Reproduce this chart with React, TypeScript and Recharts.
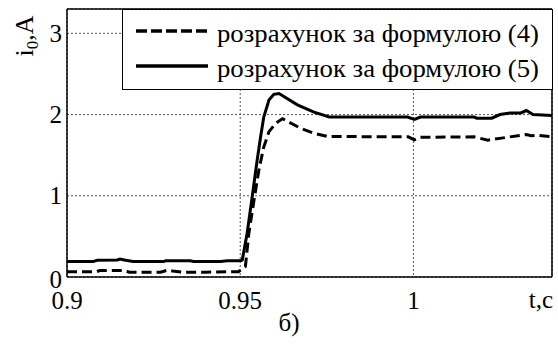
import React from "react";
import { LineChart, Line, XAxis, YAxis, CartesianGrid, Legend, ReferenceLine } from "recharts";

// formula (4) - dashed
const t4 = [0.9, 0.9085, 0.9095, 0.9165, 0.918, 0.927, 0.929, 0.9305, 0.9335, 0.94, 0.9495, 0.9505, 0.9515, 0.9525, 0.954, 0.9554, 0.9568, 0.9583, 0.9602, 0.9622, 0.9675, 0.9713, 0.9752, 0.9985, 1.0003, 1.002, 1.0175, 1.0215, 1.0254, 1.0326, 1.034, 1.036, 1.04];
const i4 = [0.065, 0.065, 0.08, 0.08, 0.06, 0.06, 0.085, 0.075, 0.06, 0.06, 0.065, 0.1, 0.13, 0.54, 0.95, 1.32, 1.6, 1.79, 1.89, 1.95, 1.83, 1.77, 1.73, 1.726, 1.69, 1.72, 1.726, 1.685, 1.71, 1.755, 1.74, 1.745, 1.726];

// formula (5) - solid
const t5 = [0.9, 0.9075, 0.9087, 0.9145, 0.9153, 0.9165, 0.9191, 0.9278, 0.9285, 0.9356, 0.9365, 0.9443, 0.9463, 0.9501, 0.9506, 0.952, 0.9535, 0.9549, 0.9559, 0.9568, 0.9583, 0.9597, 0.9612, 0.9665, 0.9713, 0.9757, 0.9983, 1.0003, 1.002, 1.0175, 1.0183, 1.0226, 1.025, 1.028, 1.031, 1.0326, 1.0345, 1.04];
const i5 = [0.19, 0.19, 0.205, 0.21, 0.22, 0.21, 0.19, 0.19, 0.2, 0.2, 0.19, 0.19, 0.2, 0.2, 0.21, 0.54, 1.0, 1.44, 1.73, 1.97, 2.18, 2.25, 2.26, 2.12, 2.03, 1.97, 1.97, 1.94, 1.97, 1.97, 1.955, 1.955, 2.0, 2.02, 2.02, 2.05, 2.0, 1.99];

const xTicks = [0.9, 0.95, 1];
const yTicks = [0, 1, 2, 3];
const names = ["розрахунок за формулою (4)", "розрахунок за формулою (5)"];

const FONT = "Liberation Serif";
const txt = { fontFamily: FONT, fontSize: 25 };

const data4 = t4.map((t, k) => ({ t, i: i4[k] }));
const data5 = t5.map((t, k) => ({ t, i: i5[k] }));

const YTick = (props: any) => {
  const { x, y, payload } = props;
  return (
    <text x={x} y={y + (payload.value === 0 ? 2 : 0)} textAnchor="end" dominantBaseline="central" style={txt} fill="#000">
      {payload.value}
    </text>
  );
};

const XTick = (props: any) => {
  const { x, y, payload } = props;
  return (
    <text x={x} y={y + 11} textAnchor="middle" dominantBaseline="central" style={txt} fill="#000">
      {String(payload.value)}
    </text>
  );
};

const LegendBox = (props: any) => {
  const payload = props.payload || [];
  return (
    <div style={{ width: 431, height: 81, boxSizing: "border-box", border: "1.5px solid #000", background: "#fff" }}>
      <svg width={428} height={78} style={{ display: "block" }}>
        {payload.map((e: any, k: number) => (
          <g key={k}>
            <line x1={13} x2={85} y1={21 + k * 35} y2={21 + k * 35} stroke="#000" strokeWidth={3.5} strokeDasharray={k === 0 ? "11 4" : undefined} />
            <text x={94} y={23 + k * 35} dominantBaseline="central" textLength={322} lengthAdjust="spacingAndGlyphs" style={{ fontFamily: FONT, fontSize: 26 }} fill="#000">
              {e.value}
            </text>
          </g>
        ))}
      </svg>
    </div>
  );
};

export default function App() {
  return (
    <div style={{ position: "absolute", left: 0, top: 0, background: "#fff" }}>
      <LineChart width={558} height={344} margin={{ top: 9, right: 6, left: 7, bottom: 7 }}>
        <CartesianGrid stroke="#555" strokeDasharray="2 2" strokeWidth={1} />
        <XAxis
          type="number"
          dataKey="t"
          domain={[0.9, 1.04]}
          ticks={xTicks}
          allowDataOverflow
          height={60}
          axisLine={{ stroke: "#000", strokeWidth: 1.5 }}
          tickLine={false}
          tickSize={6}
          tickMargin={6}
          tick={<XTick />}
          label={(p: any) => {
            const vb = p.viewBox;
            return (
              <g>
                <text x={vb.x + vb.width + 1} y={vb.y + 22} textAnchor="end" dominantBaseline="central" style={txt} fill="#000">
                  t,c
                </text>
                <text x={289} y={322} textAnchor="middle" dominantBaseline="central" style={txt} fill="#000">
                  б)
                </text>
              </g>
            );
          }}
        />
        <YAxis
          type="number"
          domain={[0, 3.3]}
          ticks={yTicks}
          allowDataOverflow
          width={60}
          axisLine={{ stroke: "#000", strokeWidth: 1.5 }}
          tickLine={false}
          tickSize={0}
          tickMargin={5}
          tick={<YTick />}
          label={() => (
            <text x={33} y={36} transform="rotate(-90 33 36)" textAnchor="middle" style={{ fontFamily: FONT, fontSize: 26 }} fill="#000">
              i<tspan style={{ fontSize: 17 }} dy={5}>0</tspan>
              <tspan dy={-5}>,A</tspan>
            </text>
          )}
        />
        <ReferenceLine y={3.3} stroke="#000" strokeWidth={1.5} />
        <ReferenceLine x={1.04} stroke="#000" strokeWidth={1.5} />
        <Legend
          layout="vertical"
          align="center"
          verticalAlign="middle"
          content={<LegendBox />}
          wrapperStyle={{ position: "absolute", left: 122, top: 9, width: 431, height: 81 }}
        />
        <Line data={data4} dataKey="i" name={names[0]} type="linear" stroke="#000" strokeWidth={3} strokeDasharray="10 5" dot={false} isAnimationActive={false} />
        <Line data={data5} dataKey="i" name={names[1]} type="linear" stroke="#000" strokeWidth={3} dot={false} isAnimationActive={false} />
      </LineChart>
    </div>
  );
}
